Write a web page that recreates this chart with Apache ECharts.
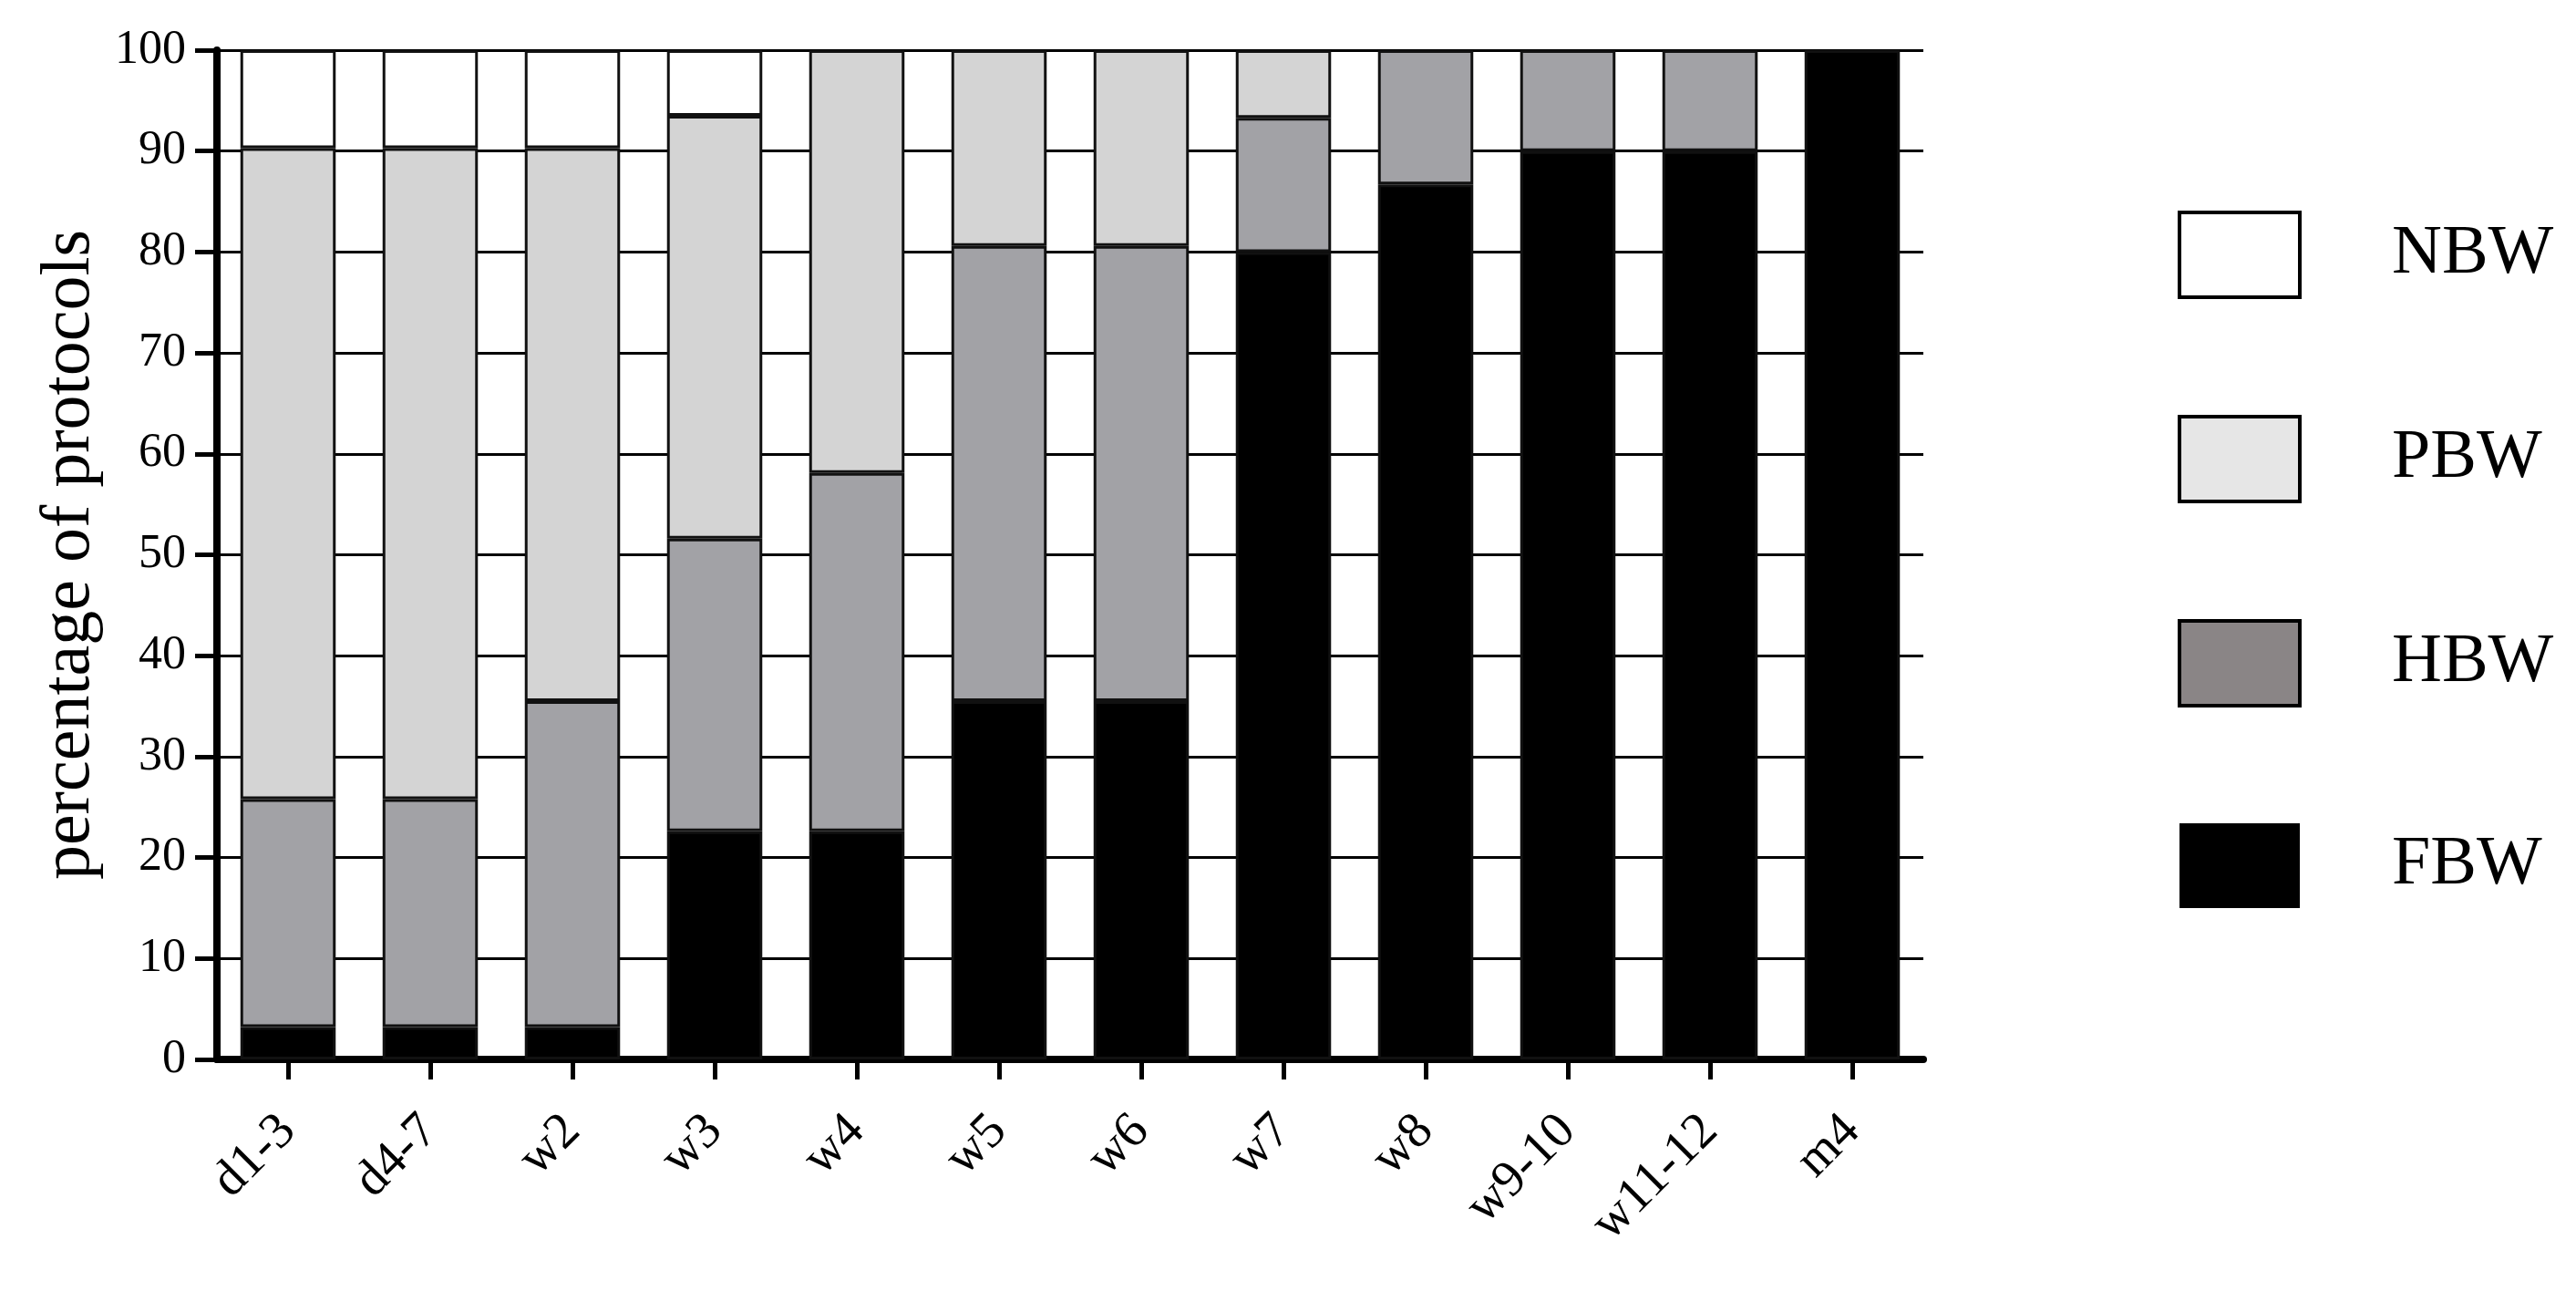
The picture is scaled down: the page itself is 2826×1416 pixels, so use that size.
<!DOCTYPE html>
<html>
<head>
<meta charset="utf-8">
<script src="https://cdn.jsdelivr.net/npm/echarts@6/dist/echarts.min.js"></script>
<style>
html,body{margin:0;padding:0;background:#fff;}
#chart{width:2826px;height:1416px;}
</style>
</head>
<body>
<div id="chart"></div>
<script>
// ---- data ----
const categories = ['d1-3','d4-7','w2','w3','w4','w5','w6','w7','w8','w9-10','w11-12','m4'];
const FBW = [3.2, 3.2, 3.2, 22.6, 22.6, 35.5, 35.5, 80.0, 86.7, 90.0, 90.0, 100];
const HBW = [22.6, 22.6, 32.3, 29.0, 35.5, 45.1, 45.1, 13.3, 13.3, 10.0, 10.0, 0];
const PBW = [64.5, 64.5, 54.8, 41.9, 41.9, 19.4, 19.4, 6.7, 0, 0, 0, 0];
const NBW = [9.7, 9.7, 9.7, 6.5, 0, 0, 0, 0, 0, 0, 0, 0];
const yTicks = [0, 10, 20, 30, 40, 50, 60, 70, 80, 90, 100];
const legendOrder = ['NBW', 'PBW', 'HBW', 'FBW'];

const font = 'Liberation Serif';
const barFill = { FBW: '#000000', HBW: '#a2a2a6', PBW: '#d4d4d4', NBW: '#ffffff' };
const legendFill = { FBW: '#000000', HBW: '#8a8586', PBW: '#e6e6e6', NBW: '#ffffff' };

function mk(name, arr) {
  return {
    name: name,
    type: 'bar',
    stack: 'total',
    barCategoryGap: '33%',
    data: arr.map(v => v === 0 ? '-' : v),
    itemStyle: { color: barFill[name], borderColor: '#111', borderWidth: 3 },
    emphasis: { disabled: true },
    animation: false
  };
}

const chart = echarts.init(document.getElementById('chart'), null, { renderer: 'canvas' });
chart.setOption({
  backgroundColor: '#ffffff',
  animation: false,
  grid: { left: 238, right: 716, top: 55, bottom: 254, containLabel: false },
  legend: {
    orient: 'vertical',
    left: 2384,
    top: 226,
    itemWidth: 132,
    itemHeight: 93,
    itemGap: 127,
    icon: 'rect',
    selectedMode: false,
    data: legendOrder.map(n => ({
      name: n,
      itemStyle: { color: legendFill[n], borderColor: '#000', borderWidth: n === 'FBW' ? 0 : 4 }
    })),
    formatter: n => '{a|' + n + '}',
    textStyle: {
      rich: { a: { fontFamily: font, fontSize: 76, color: '#000', padding: [0, 0, 0, 96], lineHeight: 80 } }
    }
  },
  xAxis: {
    type: 'category',
    data: categories,
    axisLine: { lineStyle: { color: '#000', width: 8 } },
    axisTick: { show: true, alignWithLabel: true, length: 22, lineStyle: { color: '#000', width: 5 } },
    axisLabel: { interval: 0, rotate: 45, margin: 70, fontFamily: font, fontSize: 56, color: '#000' },
    splitLine: { show: false }
  },
  yAxis: {
    type: 'value',
    min: yTicks[0],
    max: yTicks[yTicks.length - 1],
    interval: yTicks[1] - yTicks[0],
    name: 'percentage of protocols',
    nameLocation: 'middle',
    nameRotate: 90,
    nameGap: 120,
    nameTextStyle: { fontFamily: font, fontSize: 76, color: '#000' },
    axisLine: { show: true, lineStyle: { color: '#000', width: 8 } },
    axisTick: { show: true, length: 24, lineStyle: { color: '#000', width: 5 } },
    axisLabel: { margin: 34, fontFamily: font, fontSize: 52, color: '#000' },
    splitLine: { show: true, lineStyle: { color: '#000', width: 3 } }
  },
  series: [mk('FBW', FBW), mk('HBW', HBW), mk('PBW', PBW), mk('NBW', NBW)]
});
</script>
</body>
</html>
